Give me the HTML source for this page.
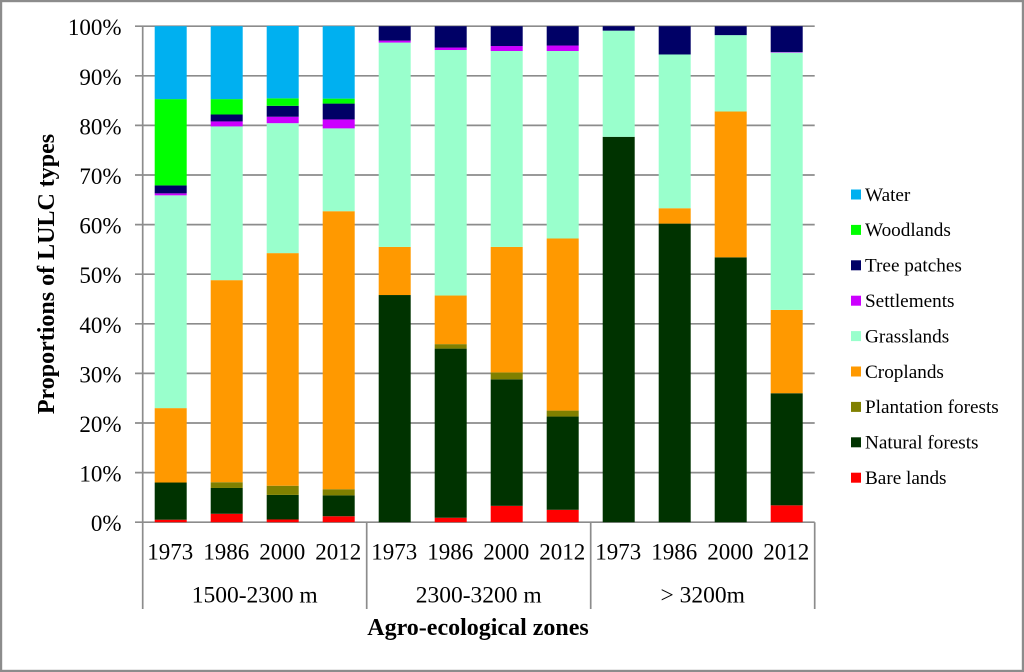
<!DOCTYPE html>
<html>
<head>
<meta charset="utf-8">
<style>
html,body{margin:0;padding:0;background:#fff;}
svg{display:block;font-family:"Liberation Serif",serif;filter:blur(0.35px);}
</style>
</head>
<body>
<svg id="chart" xmlns="http://www.w3.org/2000/svg" width="1024" height="672" viewBox="0 0 1024 672">
  <rect x="1" y="1" width="1022" height="670" fill="#fff" stroke="#8c8c8c" stroke-width="2.4"/>
  <text transform="translate(54,274) rotate(-90)" text-anchor="middle" font-size="24" font-weight="bold" fill="#000">Proportions of LULC types</text>
  <text x="478" y="635" text-anchor="middle" font-size="24" font-weight="bold" fill="#000">Agro-ecological zones</text>
  <g id="grid"></g>
  <g id="bars"></g>
  <g id="axes"></g>
  <g id="legend"></g>
</svg>
<script>
const years = ['1973','1986','2000','2012','1973','1986','2000','2012','1973','1986','2000','2012'];
const zones = ['1500-2300 m','2300-3200 m','> 3200m'];
const yTicks = [0,10,20,30,40,50,60,70,80,90,100];
const seriesNames = ['Bare lands','Natural forests','Plantation forests','Croplands','Grasslands','Settlements','Tree patches','Woodlands','Water'];
const seriesColors = ['#ff0000','#003300','#808000','#ff9900','#99ffcc','#cc00ff','#000066','#00ff00','#00b0f0'];
const bareLands = [0.5,1.7,0.55,1.2,0,0.9,3.3,2.5,0,0,0,3.4];
const naturalForests = [7.5,5.2,4.95,4.2,45.8,34.1,25.5,18.8,77.7,60.2,53.4,22.6];
const plantationForests = [0,1.16,1.85,1.25,0,0.9,1.4,1.2,0,0,0,0];
const croplands = [15,40.74,46.9,56.05,9.7,9.8,25.3,34.7,0,3.1,29.4,16.8];
const grasslands = [42.9,31,26.2,16.7,41.2,49.5,39.5,37.8,21.4,31,15.4,51.9];
const settlements = [0.4,1,1.3,1.8,0.4,0.5,1,1.1,0,0,0,0.1];
const treePatches = [1.6,1.4,2.2,3.2,2.9,4.3,4,3.9,0.9,5.7,1.8,5.2];
const woodlands = [17.4,3.1,1.5,1,0,0,0,0,0,0,0,0];
const water = [14.7,14.7,14.6,14.6,0,0,0,0,0,0,0,0];
const seriesValues = [bareLands,naturalForests,plantationForests,croplands,grasslands,settlements,treePatches,woodlands,water];

const NS = 'http://www.w3.org/2000/svg';
const plot = {left:142.7, right:814.7, top:26.2, bottom:522.2};
const axisGray = '#8c8c8c';
const yScale = v => plot.bottom - (v/100)*(plot.bottom-plot.top);
const step = (plot.right-plot.left)/years.length;
const xScale = i => plot.left + step*(i+0.5);
const barW = 32;

function mk(tag, attrs, parent, txt){
  const el = document.createElementNS(NS, tag);
  for (const k in attrs) el.setAttribute(k, attrs[k]);
  if (txt !== undefined) el.textContent = txt;
  parent.appendChild(el);
  return el;
}
const gGrid = document.getElementById('grid');
const gBars = document.getElementById('bars');
const gAxes = document.getElementById('axes');
const gLegend = document.getElementById('legend');

yTicks.forEach(t => {
  const y = yScale(t);
  const line = mk('line',{x1:135,x2:plot.right,y1:y,y2:y,stroke:axisGray,'stroke-width':1.7},gGrid);
  
  
  const label = mk('text',{x:121.5,y:y+9,'text-anchor':'end','font-size':23,fill:'#000'},gAxes,t+'%');
  
  
});

years.forEach((yr,i) => {
  let cum = 0;
  seriesValues.forEach((vals,s) => {
    const v = vals[i];
    if (v > 0) {
      const y1 = yScale(cum+v), y0 = yScale(cum);
      const seg = mk('rect',{x:xScale(i)-barW/2,y:y1,width:barW,height:y0-y1,fill:seriesColors[s]},gBars);
      
      
    }
    cum += v;
  });
  const yl = mk('text',{x:xScale(i)-0.5,y:559.3,'text-anchor':'middle','font-size':23,fill:'#000'},gAxes,yr);
  
  
});

const perZone = years.length/zones.length;
for (let z = 0; z <= zones.length; z++) {
  const x = plot.left + z*perZone*step;
  const d = mk('line',{x1:x,x2:x,y1:z===0?plot.top:plot.bottom,y2:609,stroke:axisGray,'stroke-width':1.7},gAxes);
  
  
}
zones.forEach((zn,z) => {
  const x = plot.left + (z+0.5)*perZone*step;
  const t = mk('text',{x:x,y:602.5,'text-anchor':'middle','font-size':23.5,fill:'#000'},gAxes,zn);
  
  
});

const legendTop = 194.5, legendGap = 35.4;
for (let k = seriesNames.length-1, r = 0; k >= 0; k--, r++) {
  const y = legendTop + r*legendGap;
  const sw = mk('rect',{x:851,y:y-5,width:10,height:10,fill:seriesColors[k]},gLegend);
  
  
  const lb = mk('text',{x:865,y:y+6.3,'font-size':19.2,fill:'#000'},gLegend,seriesNames[k]);
  
  
}
</script>
</body>
</html>
